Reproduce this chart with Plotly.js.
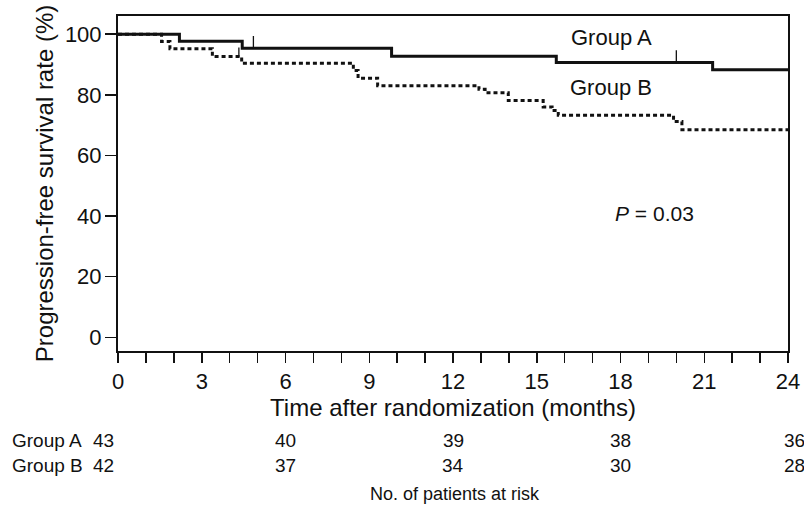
<!DOCTYPE html>
<html>
<head>
<meta charset="utf-8">
<script src="https://cdn.plot.ly/plotly-3.0.1.min.js"></script>
<style>html,body{margin:0;padding:0;background:#fff;}#chart{width:804px;height:507px;}</style>
</head>
<body>
<div id="chart"></div>
<script>
// Kaplan-Meier step data (months, %)
const groupATimes  = [0, 2.2, 4.45, 9.8, 15.7, 21.3, 24];
const groupAValues = [100, 97.7, 95.4, 92.7, 90.7, 88.3, 88.3];
const groupBTimes  = [0, 1.56, 1.86, 3.38, 4.43, 8.43, 8.6, 9.3, 12.93, 13.15, 13.98, 15.23, 15.55, 15.77, 19.9, 20.2, 24];
const groupBValues = [100, 97.6, 95.2, 92.6, 90.4, 88.0, 85.5, 83.0, 81.8, 80.7, 78.1, 76.0, 74.8, 73.3, 71.2, 68.5, 68.5];
// censored observations
const censorATimes  = [4.85, 20.0];
const censorAValues = [95.4, 90.7];
const censorBTimes  = [4.33];
const censorBValues = [92.6];
// axis ticks
const xTickVals = [0,1,2,3,4,5,6,7,8,9,10,11,12,13,14,15,16,17,18,19,20,21,22,23,24];
const xTickText = ['0','','','3','','','6','','','9','','','12','','','15','','','18','','','21','','','24'];
const yTickVals = [0, 20, 40, 60, 80, 100];
// number at risk
const riskTimes = [0, 6, 12, 18, 24];
const riskA = [43, 40, 39, 38, 36];
const riskB = [42, 37, 34, 30, 28];

const FONT = 'Liberation Sans, Arial, Helvetica, sans-serif';

const traces = [
  {x: groupATimes, y: groupAValues, mode: 'lines', line: {shape: 'hv', color: '#111', width: 3}, hoverinfo: 'skip', showlegend: false},
  {x: groupBTimes, y: groupBValues, mode: 'lines', line: {shape: 'hv', color: '#111', width: 3, dash: '4px,3px'}, hoverinfo: 'skip', showlegend: false},
  {x: censorATimes, y: censorAValues, mode: 'markers', marker: {size: 1, color: '#111'},
   error_y: {type: 'constant', symmetric: false, value: 4, valueminus: 0, thickness: 1.3, width: 0, color: '#111'}, showlegend: false, hoverinfo: 'skip'},
  {x: censorBTimes, y: censorBValues, mode: 'markers', marker: {size: 1, color: '#111'},
   error_y: {type: 'constant', symmetric: false, value: 3, valueminus: 0, thickness: 1.3, width: 0, color: '#111'}, showlegend: false, hoverinfo: 'skip'}
];

const RISK_FONT = {family: FONT, size: 19, color: '#111'};
const annotations = [
  {x: 17.66, y: 98.8, xref: 'x', yref: 'y', text: 'Group A', showarrow: false, font: {family: FONT, size: 22, color: '#111'}},
  {x: 17.66, y: 82.3, xref: 'x', yref: 'y', text: 'Group B', showarrow: false, font: {family: FONT, size: 22, color: '#111'}},
  {x: 19.23, y: 40.7, xref: 'x', yref: 'y', text: '<i>P</i> = 0.03', showarrow: false, font: {family: FONT, size: 21, color: '#111'}},
  {x: -0.161, y: -0.266, xref: 'paper', yref: 'paper', xanchor: 'left', yanchor: 'middle', text: 'Group A', showarrow: false, font: RISK_FONT},
  {x: -0.161, y: -0.343, xref: 'paper', yref: 'paper', xanchor: 'left', yanchor: 'middle', text: 'Group B', showarrow: false, font: RISK_FONT},
  {x: 0.503, y: -0.427, xref: 'paper', yref: 'paper', xanchor: 'center', yanchor: 'middle', text: 'No. of patients at risk', showarrow: false, font: {family: FONT, size: 18, color: '#111'}}
];
riskTimes.forEach((t, i) => {
  const shift = i === 0 ? -15 : (i === riskTimes.length - 1 ? 6 : 0);
  annotations.push({x: t, y: -0.266, xref: 'x', yref: 'paper', xanchor: 'center', yanchor: 'middle', xshift: shift, text: String(riskA[i]), showarrow: false, font: RISK_FONT});
  annotations.push({x: t, y: -0.343, xref: 'x', yref: 'paper', xanchor: 'center', yanchor: 'middle', xshift: shift, text: String(riskB[i]), showarrow: false, font: RISK_FONT});
});

const layout = {
  width: 804, height: 507,
  margin: {l: 118, r: 16, t: 16, b: 156, pad: 0},
  paper_bgcolor: '#fff', plot_bgcolor: '#fff',
  font: {family: FONT, color: '#111'},
  xaxis: {
    range: [0, 24], tickvals: xTickVals, ticktext: xTickText,
    ticks: 'outside', ticklen: 10, tickwidth: 1.5, tickcolor: '#111',
    showline: true, linewidth: 2, linecolor: '#111', mirror: true,
    showgrid: false, zeroline: false,
    tickfont: {family: FONT, size: 22, color: '#111'},
    title: {text: 'Time after randomization (months)', font: {family: FONT, size: 24, color: '#111'}, standoff: 6}
  },
  yaxis: {
    range: [-4.5, 106], tickvals: yTickVals,
    ticks: 'outside', ticklen: 11, tickwidth: 1.5, tickcolor: '#111',
    ticklabelstandoff: -1,
    showline: true, linewidth: 2, linecolor: '#111', mirror: true,
    showgrid: false, zeroline: false,
    tickfont: {family: FONT, size: 22, color: '#111'},
    title: {text: 'Progression-free survival rate (%)', font: {family: FONT, size: 24, color: '#111'}, standoff: 4}
  },
  annotations: annotations
};

Plotly.newPlot('chart', traces, layout, {displayModeBar: false, staticPlot: true});
</script>
</body>
</html>
